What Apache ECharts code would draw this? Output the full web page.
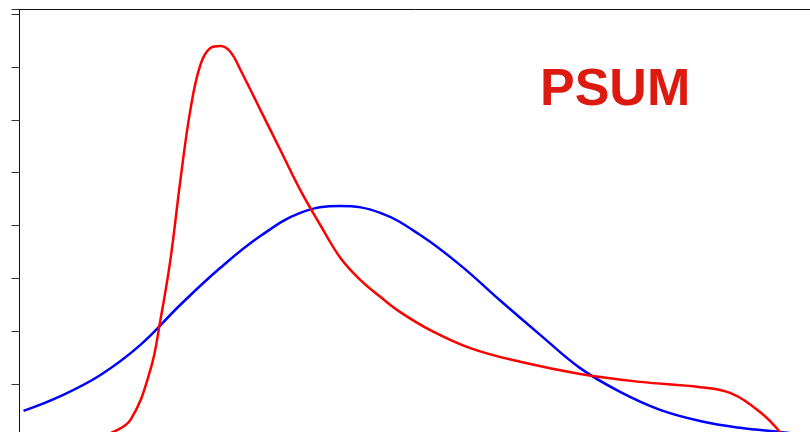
<!DOCTYPE html>
<html>
<head>
<meta charset="utf-8">
<script src="https://cdn.jsdelivr.net/npm/echarts@6/dist/echarts.min.js"></script>
<style>html,body{margin:0;padding:0;background:#fff;overflow:hidden}#chart{width:810px;height:437px}</style>
</head>
<body>
<div id="chart"></div>
<script>
// 横轴位置（原图水平刻度）
let blueX = [23, 60, 100, 140, 180, 220, 260, 300, 340, 380, 420, 460, 500, 540, 580, 620, 660, 700, 740, 780, 800];
let blueY = [0.49, 0.77, 1.17, 1.74, 2.50, 3.20, 3.80, 4.24, 4.37, 4.24, 3.82, 3.25, 2.58, 1.93, 1.30, 0.85, 0.51, 0.30, 0.17, 0.09, 0.05];
let redX = [110, 130, 150, 160, 170, 180, 190, 200, 210, 220, 230, 240, 260, 280, 300, 320, 340, 360, 380, 400, 430, 470, 520, 580, 640, 700, 730, 760, 780];
let redY = [0.07, 0.32, 1.27, 2.21, 3.35, 4.86, 6.19, 7.04, 7.36, 7.40, 7.29, 6.95, 6.19, 5.43, 4.67, 4.01, 3.39, 2.97, 2.65, 2.36, 2.02, 1.68, 1.42, 1.19, 1.04, 0.94, 0.83, 0.47, 0.09];

let myChart = echarts.init(document.getElementById('chart'));
let option = {
  animation: false,
  title: {
    text: 'PSUM',
    left: 535,
    top: 60,
    textStyle: { color: '#dd1a10', fontSize: 52, fontWeight: 'bold', fontFamily: 'Liberation Sans' }
  },
  grid: { left: 19.5, right: 0, top: 9.5, bottom: 0.2 },
  xAxis: [
    { type: 'value', min: 19, max: 810, show: false },
    {
      type: 'value', position: 'top', min: 19, max: 810,
      axisLine: { show: true, lineStyle: { color: '#111', width: 1 } },
      axisTick: { show: false }, axisLabel: { show: false }, splitLine: { show: false }
    }
  ],
  yAxis: {
    type: 'value', min: 0, max: 8.09, interval: 1,
    axisLine: { show: true, lineStyle: { color: '#111', width: 1 } },
    axisTick: { show: true, length: 8, lineStyle: { color: '#333' } },
    axisLabel: { show: false },
    splitLine: { show: false }
  },
  series: [
    {
      type: 'line', smooth: 0.4, symbol: 'none',
      lineStyle: { color: '#0000ff', width: 2.5 },
      data: blueX.map((x, i) => [x, blueY[i]])
    },
    {
      type: 'line', smooth: 0.4, symbol: 'none',
      lineStyle: { color: '#ff0000', width: 2.5 },
      data: redX.map((x, i) => [x, redY[i]])
    }
  ]
};
myChart.setOption(option);
</script>
</body>
</html>
